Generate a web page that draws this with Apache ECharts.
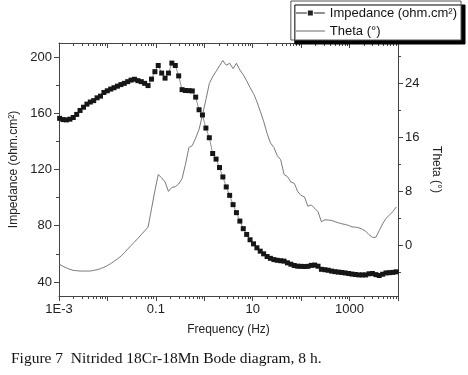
<!DOCTYPE html>
<html>
<head>
<meta charset="utf-8">
<script src="https://cdn.jsdelivr.net/npm/echarts@6/dist/echarts.min.js"></script>
<style>
  html, body { margin: 0; padding: 0; background: #fff; }
  #bode { width: 468px; height: 375px; }
</style>
</head>
<body>
<div id="bode"></div>
<script>
// Nitrided 18Cr-18Mn, Bode plot after 8 h

const freqHz = [
  0.00103, 0.00121, 0.00143, 0.00168, 0.00197, 0.00232, 0.00272, 0.00321, 0.00377, 0.00443,
  0.0052, 0.00611, 0.00719, 0.00845, 0.00993, 0.0117, 0.0137, 0.0161, 0.019, 0.0223,
  0.0262, 0.0308, 0.0362, 0.0426, 0.05, 0.0587, 0.069, 0.0813, 0.0955, 0.112,
  0.132, 0.155, 0.182, 0.214, 0.252, 0.296, 0.348, 0.408, 0.481, 0.565,
  0.664, 0.78, 0.916, 1.08, 1.27, 1.49, 1.75, 2.06, 2.42, 2.84,
  3.34, 3.93, 4.61, 5.43, 6.38, 7.5, 8.81, 10.4, 12.2, 14.3,
  16.8, 19.8, 23.2, 27.4, 32.1, 37.8, 44.4, 52.1, 61.4, 72.1,
  84.7, 99.5, 117, 138, 162, 190, 223, 262, 309, 363,
  427, 501, 589, 693, 815, 957, 1120, 1320, 1560, 1830,
  2150, 2520, 2960, 3490, 4100, 4820, 5660, 6650, 7820, 9200
];

const impedance = [
  156.4, 155.5, 155.3, 155.8, 157, 159.2, 162, 164.3, 166.5, 168,
  169, 171, 172.2, 174.8, 176, 177.2, 178.2, 179.3, 180.4, 181.3,
  182.5, 183.6, 184.2, 183.2, 182.5, 181.3, 179.7, 184.3, 189.6, 194,
  188.6, 185, 188.6, 195.7, 194, 186.6, 176.8, 176.2, 176.1, 175.9,
  171.5, 162.5, 158.8, 149.5, 142.6, 131.4, 127.4, 121.4, 114.7, 107.6,
  101.6, 95, 89.3, 83.3, 77.9, 73.8, 70, 67.1, 64.3, 61.9,
  60, 58.1, 56.8, 55.9, 55.4, 55.1, 54.8, 53.6, 52.6, 51.7,
  51.2, 51.1, 51, 51.1, 51.8, 52, 51.2, 49, 48.7, 48.3,
  47.7, 47.3, 47, 46.7, 46.4, 46, 45.6, 45.3, 45, 45,
  45, 45.8, 46, 45.2, 44.6, 45.5, 46.4, 46.6, 46.8, 47.2
];

const theta = [
  -2.8, -3.1, -3.35, -3.55, -3.7, -3.75, -3.8, -3.8, -3.8, -3.8,
  -3.7, -3.6, -3.45, -3.25, -3.0, -2.7, -2.35, -2.0, -1.6, -1.1,
  -0.55, 0, 0.5, 1.05, 1.6, 2.15, 2.7, 5.4, 8.1, 10.5,
  10.0, 9.4, 8.0, 8.6, 8.7, 9.1, 9.9, 12.0, 14.5, 14.8,
  15.9, 17.2, 19.3, 21.6, 24.0, 25.0, 25.8, 26.6, 27.4, 26.7,
  27.0, 26.2, 27.0, 26.0, 25.3, 24.4, 23.4, 22.5, 21.3, 19.9,
  18.4, 16.6, 15.2, 14.5, 13.3, 12.7, 10.5, 10.2, 9.4, 9.2,
  8.0, 7.4, 7.2, 5.8, 6.0, 5.5, 5.0, 3.5, 3.8, 3.75,
  3.7, 3.5, 3.35, 3.2, 3.1, 2.95, 2.75, 2.7, 2.6, 2.4,
  2.1, 1.6, 1.2, 1.2, 2.2, 3.2, 4.0, 4.5, 5.0, 5.7
];

// tick positions and labels
const xDecades = [0.001, 0.01, 0.1, 1, 10, 100, 1000, 10000];
const xLabelValues = [0.001, 0.1, 10, 1000];
const xLabelTexts = ["1E-3", "0.1", "10", "1000"];
const zLabelValues = [40, 80, 120, 160, 200];
const zMinorValues = [60, 100, 140, 180];
const thetaLabelValues = [0, 8, 16, 24];
const thetaMinorValues = [-4, 4, 12, 20, 28];

const xMinor = [];
xDecades.slice(0, -1).forEach(d => {
  for (let m = 2; m <= 9; m++) xMinor.push(+(d * m).toPrecision(3));
});

const FONT = "Liberation Sans, Arial, sans-serif";
const AXIS_COLOR = "#444";
const IMP_NAME = "Impedance (ohm.cm\u00b2)";
const THETA_NAME = "Theta (\u00b0)";

// legend glyphs: line-square-line, and a plain line
const ICON_IMP = "path://M0 2L11 2L11 3L0 3Z M12 0L17 0L17 5L12 5Z M18 2L29 2L29 3L18 3Z";
const ICON_THETA = "path://M0 0L29 0L29 1L0 1Z";

const chart = echarts.init(document.getElementById("bode"), null, { renderer: "canvas" });

function xAxisPart(pos, ticks, len, main) {
  return {
    type: "log", logBase: 10, min: 0.001, max: 10000, position: pos,
    gridIndex: 0,
    axisLine: { show: main, onZero: false, lineStyle: { color: AXIS_COLOR, width: 1 } },
    axisTick: { show: true, inside: pos === "top", length: len, customValues: ticks,
                lineStyle: { color: AXIS_COLOR, width: 1 } },
    axisLabel: main && pos === "bottom" ? {
      show: true, customValues: xLabelValues, margin: 7,
      color: "#222", fontFamily: FONT, fontSize: 13,
      formatter: v => {
        const i = xLabelValues.findIndex(t => Math.abs(Math.log10(t) - Math.log10(v)) < 1e-6);
        return i >= 0 ? xLabelTexts[i] : "";
      }
    } : { show: false },
    splitLine: { show: false }
  };
}

function yAxisPart(pos, min, max, ticks, len, main, labels) {
  return {
    type: "value", min: min, max: max, position: pos,
    axisLine: { show: main, onZero: false, lineStyle: { color: AXIS_COLOR, width: 1 } },
    axisTick: { show: true, length: len, customValues: ticks, lineStyle: { color: AXIS_COLOR, width: 1 } },
    axisLabel: labels ? {
      show: true, customValues: labels, margin: 7,
      color: "#222", fontFamily: FONT, fontSize: 13
    } : { show: false },
    splitLine: { show: false }
  };
}

const xMain = xAxisPart("bottom", xDecades, 5, true);
xMain.name = "Frequency (Hz)";
xMain.nameLocation = "middle";
xMain.nameGap = 28;
xMain.nameTextStyle = { color: "#222", fontFamily: FONT, fontSize: 12 };

const yLeft = yAxisPart("left", 30, 210, zLabelValues, 5, true, zLabelValues);
yLeft.name = IMP_NAME;
yLeft.nameLocation = "middle";
yLeft.nameGap = 39;
yLeft.nameTextStyle = { color: "#222", fontFamily: FONT, fontSize: 12 };

const yRight = yAxisPart("right", -7.5, 30, thetaLabelValues, 5, true, thetaLabelValues);
yRight.name = THETA_NAME;
yRight.nameLocation = "middle";
yRight.nameRotate = -90;
yRight.nameGap = 28;
yRight.nameTextStyle = { color: "#222", fontFamily: FONT, fontSize: 12 };

chart.setOption({
  animation: false,
  backgroundColor: "#fff",
  grid: { left: 59, right: 70, top: 43, bottom: 79, containLabel: false, outerBoundsMode: "none" },
  legend: {
    orient: "vertical",
    right: 7, top: 1,
    padding: [4, 4, 1, 5],
    itemGap: 2,
    itemWidth: 29, itemHeight: 5,
    symbolKeepAspect: true,
    backgroundColor: "#fff",
    borderColor: "#555", borderWidth: 1,
    shadowColor: "#000", shadowBlur: 0, shadowOffsetX: 4, shadowOffsetY: 4,
    textStyle: { color: "#111", fontFamily: FONT, fontSize: 13, lineHeight: 16 },
    data: [
      { name: IMP_NAME, icon: ICON_IMP, itemStyle: { color: "#222" } },
      { name: THETA_NAME, icon: ICON_THETA, itemStyle: { color: "#666" } }
    ]
  },
  xAxis: [
    xMain,
    xAxisPart("bottom", xMinor, 3, false),
    xAxisPart("top", xDecades, 5, true),
    xAxisPart("top", xMinor, 3, false)
  ],
  yAxis: [
    yLeft,
    yAxisPart("left", 30, 210, zMinorValues, 3, false, null),
    yRight,
    yAxisPart("right", -7.5, 30, thetaMinorValues, 3, false, null)
  ],
  graphic: [{
    type: "text", left: 11, top: 351,
    style: {
      text: "Figure 7  Nitrided 18Cr-18Mn Bode diagram, 8 h.",
      fill: "#111", font: "15.5px 'Liberation Serif', 'Times New Roman', serif"
    }
  }],
  series: [
    {
      name: IMP_NAME,
      type: "line",
      xAxisIndex: 0, yAxisIndex: 0,
      data: freqHz.map((f, i) => [f, impedance[i]]),
      symbol: "rect", symbolSize: 5, showSymbol: true,
      itemStyle: { color: "#161616" },
      lineStyle: { color: "#777", width: 0.8 },
      z: 3
    },
    {
      name: THETA_NAME,
      type: "line",
      xAxisIndex: 0, yAxisIndex: 2,
      data: freqHz.map((f, i) => [f, theta[i]]),
      symbol: "none",
      itemStyle: { color: "#7a7a7a" },
      lineStyle: { color: "#7a7a7a", width: 1 },
      z: 2
    }
  ]
});

window.addEventListener("resize", () => chart.resize());
</script>
</body>
</html>
